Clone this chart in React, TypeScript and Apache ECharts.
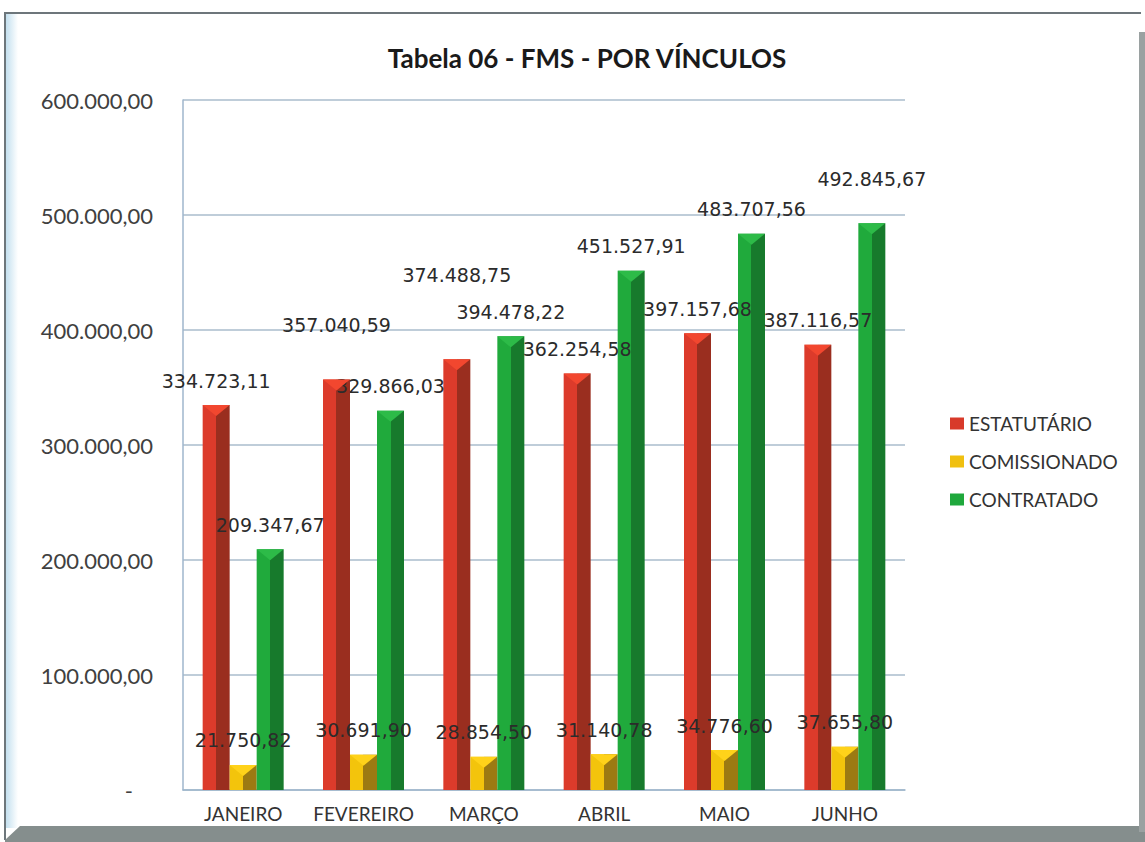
import React, { useEffect, useRef } from "react";
import * as echarts from "echarts";

const categories = ["JANEIRO", "FEVEREIRO", "MARÇO", "ABRIL", "MAIO", "JUNHO"];
const estatutario = [334723.11, 357040.59, 374488.75, 362254.58, 397157.68, 387116.57];
const comissionado = [21750.82, 30691.9, 28854.5, 31140.78, 34776.6, 37655.8];
const contratado = [209347.67, 329866.03, 394478.22, 451527.91, 483707.56, 492845.67];
const seriesNames = ["ESTATUTÁRIO", "COMISSIONADO", "CONTRATADO"];

// extra label lift (px) for labels that were moved up in the original to avoid overlaps
const labelLift = [
  [0, 30, 60, 0, 0, 0],
  [0, 0, 0, 0, 0, 0],
  [0, 0, 0, 0, 0, 20],
];

function fmt(v: number): string {
  const fixed = v.toFixed(2);
  const [int, dec] = fixed.split(".");
  const withDots = int.replace(/\B(?=(\d{3})+(?!\d))/g, ".");
  return withDots + "," + dec;
}

function grad(light: string, dark: string) {
  return new echarts.graphic.LinearGradient(0, 0, 1, 0, [
    { offset: 0, color: light },
    { offset: 0.5, color: light },
    { offset: 0.5, color: dark },
    { offset: 1, color: dark },
  ]);
}

export default function App() {
  const ref = useRef<HTMLDivElement>(null);
  useEffect(() => {
    if (!ref.current) return;
    const chart = echarts.init(ref.current, null, { renderer: "svg" });
    const solid = ["#d83a2a", "#f0c010", "#1fa83c"];
    const fills = [
      grad("#dc3b2b", "#9a2e1f"),
      grad("#f3c40c", "#9c7a12"),
      grad("#20aa3c", "#177a2c"),
    ];
    const capColors = ["#f2472f", "#ffd21a", "#2dbb48"];
    const BW = 27;
    const datas = [estatutario, comissionado, contratado];
    const barSeries = datas.map((d, i) => ({
      name: seriesNames[i],
      type: "bar",
      data: d.map((v, j) => ({ value: v, label: { distance: 15 + labelLift[i][j] } })),
      barWidth: BW,
      barGap: "0%",
      itemStyle: { color: fills[i] },
      label: {
        show: true,
        position: "top",
        distance: 15,
        formatter: (p: any) => fmt(p.value),
        fontFamily: "DejaVu Sans",
        fontSize: 19,
        color: "#2b2b2b",
      },
    }));
    const capSeries = datas.map((d, i) => ({
      name: "cap" + i,
      type: "custom",
      silent: true,
      z: 3,
      data: d.map((v, j) => [j, v]),
      renderItem: (params: any, api: any) => {
        const c = api.coord([api.value(0), api.value(1)]);
        const cx = c[0] + (i - 1) * BW;
        const top = c[1];
        return {
          type: "polygon",
          shape: { points: [[cx - BW / 2, top], [cx + BW / 2, top], [cx, top + 11]] },
          style: { fill: capColors[i] },
        };
      },
    }));
    chart.setOption({
      animation: false,
      backgroundColor: "#ffffff",
      graphic: [
        { type: "rect", silent: true, z: -10, shape: { x: 0, y: 0, width: 1145, height: 842 }, style: { fill: "#ffffff" } },
        {
          type: "rect", silent: true, z: -9, shape: { x: 6, y: 14, width: 12, height: 814 },
          style: { fill: new echarts.graphic.LinearGradient(0, 0, 1, 0, [{ offset: 0, color: "#c4e0ef" }, { offset: 1, color: "#ffffff" }]) },
        },
        { type: "polyline", silent: true, z: -8, shape: { points: [[5, 840], [5, 13], [1141, 13]] }, style: { stroke: "#6d767b", lineWidth: 2, fill: "none" } },
        { type: "polygon", silent: true, z: -8, shape: { points: [[5, 842], [5, 840], [20, 826], [1145, 826], [1145, 842]] }, style: { fill: "#858e8d" } },
        { type: "rect", silent: true, z: -8, shape: { x: 1139, y: 32, width: 6, height: 800 }, style: { fill: "#9aa1a1" } },
      ],
      title: {
        text: "Tabela 06 - FMS - POR VÍNCULOS",
        left: 582,
        textAlign: "center",
        top: 40,
        textStyle: { fontFamily: "Lato", fontWeight: "bold", fontSize: 26, color: "#1a1a1a" },
      },
      legend: {
        orient: "vertical",
        left: 945,
        top: 409,
        itemGap: 19,
        itemWidth: 14,
        itemHeight: 12,
        icon: "rect",
        textStyle: { fontFamily: "Lato", fontSize: 19, color: "#333333" },
        data: seriesNames.map((n, i) => ({ name: n, itemStyle: { color: solid[i] } })),
      },
      grid: { left: 183, right: 240, top: 100, bottom: 52, containLabel: false },
      xAxis: {
        type: "category",
        data: categories,
        axisLine: { show: true, lineStyle: { color: "#9fb6cc", width: 1.5 } },
        axisTick: { show: false },
        axisLabel: { interval: 0, fontFamily: "Lato", fontSize: 19, color: "#333333", margin: 14 },
      },
      yAxis: {
        type: "value",
        min: 0,
        max: 600000,
        interval: 100000,
        axisLine: { show: true, lineStyle: { color: "#9fb6cc", width: 1.5 } },
        axisTick: { show: false },
        splitLine: { lineStyle: { color: "#aabccd", width: 1.5 } },
        axisLabel: {
          fontFamily: "Lato",
          fontSize: 22,
          color: "#404040",
          margin: 30,
          formatter: (v: number) => (v === 0 ? "{d|-}" : fmt(v)),
          rich: { d: { fontFamily: "Lato", fontSize: 22, color: "#404040", padding: [0, 20, 0, 0] } },
        },
      },
      series: [...barSeries, ...capSeries],
    });
    return () => chart.dispose();
  }, []);
  return (
    <div
      ref={ref}
      style={{ position: "fixed", left: 0, top: 0, width: 1145, height: 842 }}
    />
  );
}
